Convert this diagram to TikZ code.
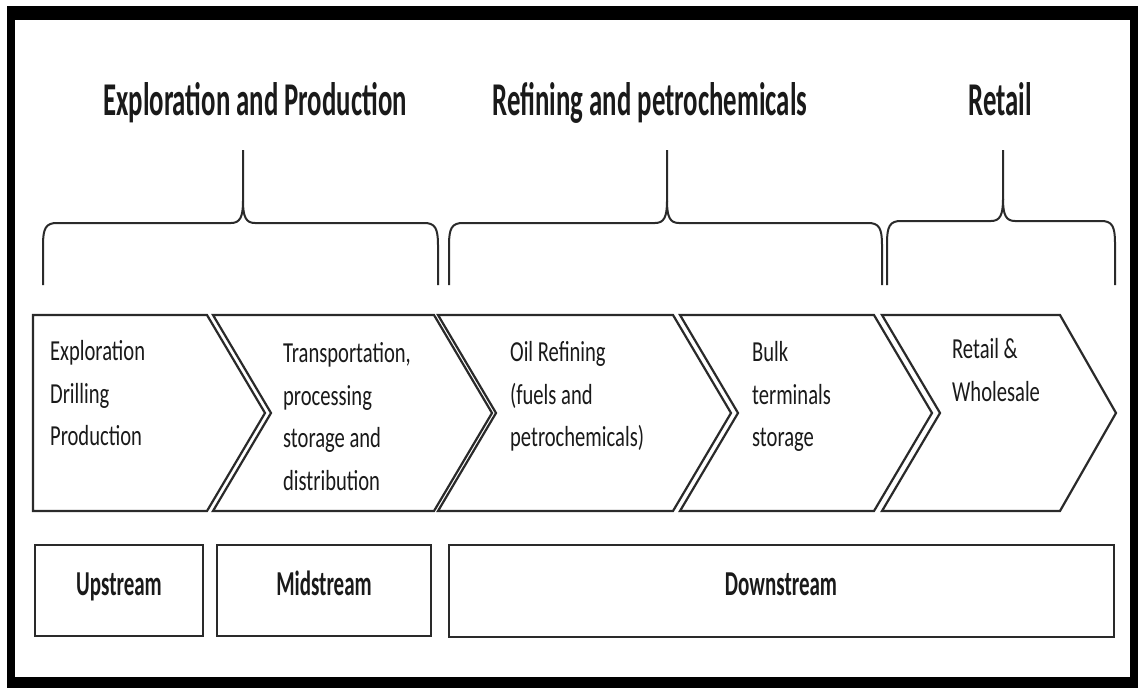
\documentclass[tikz,border=0pt]{standalone}
\usepackage{fontspec}
\setmainfont{Carlito}
\definecolor{ln}{HTML}{2A2A2A}
\definecolor{tx}{HTML}{1A1A1A}
\begin{document}
\begin{tikzpicture}[x=1pt,y=-1pt,
  chev/.style={draw=ln, line width=2.2pt, line join=miter},
  bracepath/.style={draw=ln, line width=2pt},
  stagebox/.style={draw=ln, line width=2.6pt},
  headtext/.style={font=\bfseries\fontsize{47}{50}\selectfont, text=tx, xscale=0.57, inner sep=0, anchor=base},
  chevtext/.style={font=\fontsize{29}{42.5}\selectfont, text=tx, xscale=0.71, inner sep=0, anchor=north west, align=left},
  streamtext/.style={font=\bfseries\fontsize{35}{40}\selectfont, text=tx, xscale=0.6, inner sep=0, anchor=base}]
\useasboundingbox (0,0) rectangle (1138,688);
\fill[white] (0,0) rectangle (1138,688);
% frame
\fill[black] (7,6) rectangle (1138,688);
\fill[white] (15,20) rectangle (1130,677);

% headings
\node[headtext] (h1) at (255,115) {Exploration and Production};
\node[headtext] (h2) at (650,115) {Refining and petrochemicals};
\node[headtext] (h3) at (1000,115) {Retail};

% braces
\draw[bracepath] (43,285) -- (43,245) .. controls (43,228) and (46,223) .. (57,223)
  -- (231,223) .. controls (240,223) and (243,217) .. (243,201) -- (243,150);
\draw[bracepath] (243,201) .. controls (243,217) and (246,223) .. (255,223)
  -- (424,223) .. controls (435,223) and (438,228) .. (438,245) -- (438,285);

\draw[bracepath] (449,285) -- (449,245) .. controls (449,228) and (452,223) .. (463,223)
  -- (655,223) .. controls (664,223) and (667,217) .. (667,201) -- (667,150);
\draw[bracepath] (667,201) .. controls (667,217) and (670,223) .. (679,223)
  -- (868,223) .. controls (879,223) and (882,228) .. (882,245) -- (882,285);

\draw[bracepath] (887,285) -- (887,243) .. controls (887,226) and (890,221) .. (901,221)
  -- (991,221) .. controls (1000,221) and (1003,215) .. (1003,199) -- (1003,150);
\draw[bracepath] (1003,199) .. controls (1003,215) and (1006,221) .. (1015,221)
  -- (1101,221) .. controls (1112,221) and (1115,226) .. (1115,243) -- (1115,285);

% chevrons
\draw[chev] (33,315) -- (207,315) -- (265,413) -- (207,511) -- (33,511) -- cycle;
\draw[chev] (213,315) -- (434,315) -- (492,413) -- (434,511) -- (213,511) -- (271,413) -- cycle;
\draw[chev] (438,315) -- (673,315) -- (731,413) -- (673,511) -- (438,511) -- (496,413) -- cycle;
\draw[chev] (680,315) -- (874,315) -- (932,413) -- (874,511) -- (680,511) -- (738,413) -- cycle;
\draw[chev] (882,315) -- (1060,315) -- (1116,413) -- (1060,511) -- (882,511) -- (940,413) -- cycle;

\node[chevtext] (c1) at (50,331) {\strut Exploration\\Drilling\\Production};
\node[chevtext] (c2) at (283,333) {\strut Transportation,\\processing\\storage and\\distribution};
\node[chevtext] (c3) at (510,332) {\strut Oil Refining\\(fuels and\\petrochemicals)};
\node[chevtext] (c4) at (752,332) {\strut Bulk\\terminals\\storage};
\node[chevtext] (c5) at (952,329) {\strut Retail \&\\Wholesale};

% stage boxes
\draw[stagebox] (35,545) rectangle (203,636);
\draw[stagebox] (217,545) rectangle (431,636);
\draw[stagebox] (449,545) rectangle (1114,637);
\node[streamtext] (s1) at (119,595) {Upstream};
\node[streamtext] (s2) at (324,595) {Midstream};
\node[streamtext] (s3) at (781,595) {Downstream};
\end{tikzpicture}
\end{document}
